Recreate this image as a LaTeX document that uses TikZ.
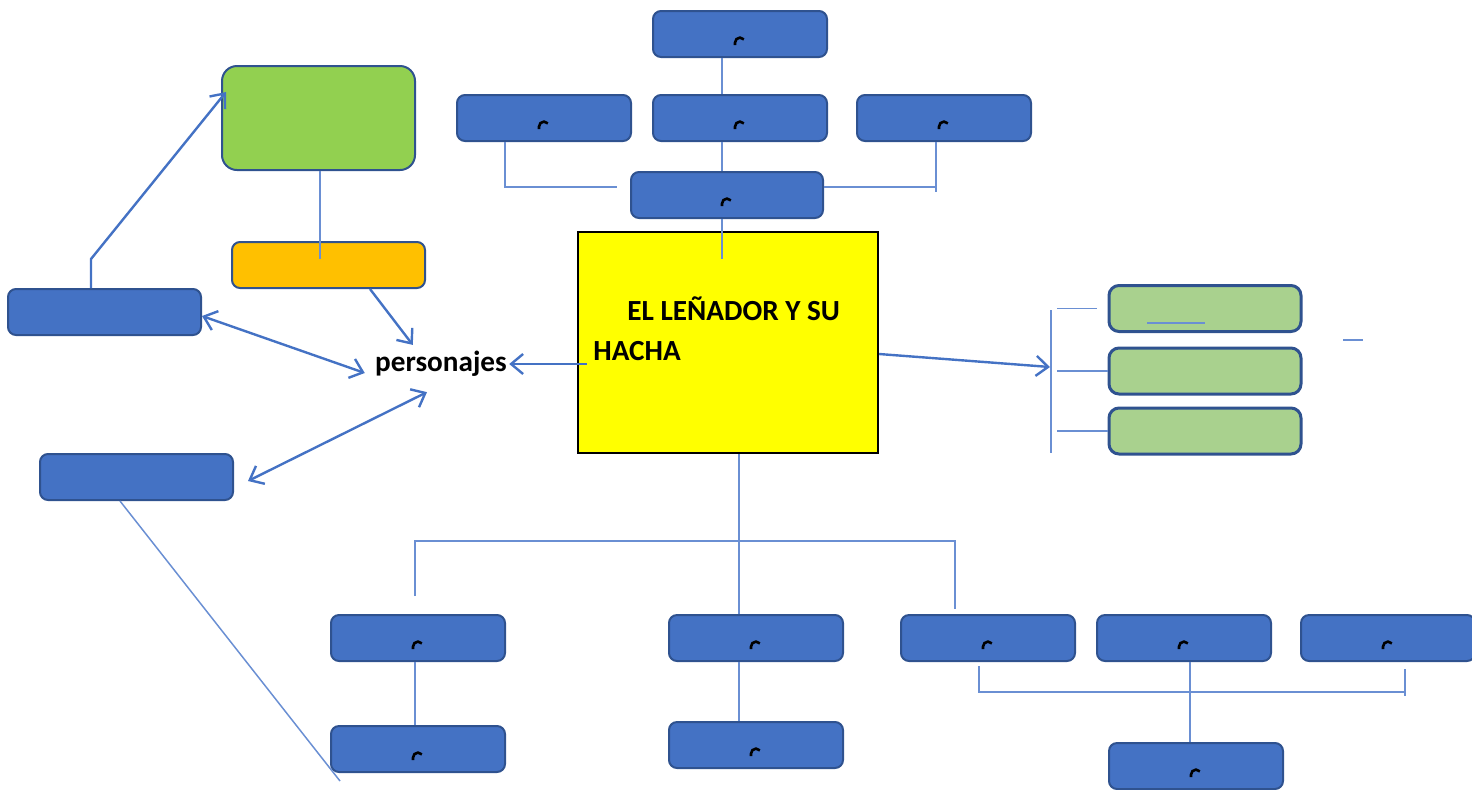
\documentclass[tikz,border=0pt]{standalone}
\usepackage{fontspec}
\setmainfont{Carlito}
\usepackage{tikz}
\usetikzlibrary{arrows.meta}

\definecolor{azul}{HTML}{4472C4}
\definecolor{borde}{HTML}{2F528F}
\definecolor{linea}{HTML}{6A8FD3}
\definecolor{verdeF}{HTML}{92D050}
\definecolor{verdeC}{HTML}{A9D18E}
\definecolor{naranja}{HTML}{FFC000}
\definecolor{amarillo}{HTML}{FFFF00}

\begin{document}
\begin{tikzpicture}
		[x=0.5pt,y=-0.5pt,
		caja/.style= {rounded corners=4pt,draw=borde,fill=azul,line width=1pt,minimum width=87pt,minimum height=23pt,inner sep=0pt},
		ancha/.style= {caja,minimum width=96.5pt},
		hoja/.style= {caja,fill=verdeC,line width=1.5pt,rounded corners=5pt,minimum width=96pt},
		link/.style= {draw=linea,line width=0.75pt},
		flecha/.style= {draw=azul,line width=1.2pt,-{Straight Barb[length=6pt,width=10pt]}},
		doble/.style= {flecha,{Straight Barb[length=6pt,width=10pt]}-{Straight Barb[length=6pt,width=10pt]}},
		glifo/.style= {black,line width=1.3pt}]

		\useasboundingbox (0,0) rectangle (1472,789);

		% centro
		\node[draw=black,fill=amarillo,line width=1.1pt,minimum width=150pt,minimum height=110.5pt,inner sep=0pt] (main) at (728,342.5) {};
		\node[anchor=base west,inner sep=0pt,align=left,font=\fontsize{14.6}{20}\selectfont\bfseries] (title) at (593,360) {\hspace*{17pt}EL LEÑADOR Y SU\\HACHA};

		% arriba
		\node[caja] (t0) at (740,34) {};
		\node[caja] (t1) at (544,118) {};
		\node[caja] (t2) at (740,118) {};
		\node[caja] (t3) at (944,118) {};
		\node[caja,minimum width=96pt] (t4) at (727,195) {};

		% izquierda
		\node[caja,fill=verdeF,rounded corners=7.5pt,minimum width=96.5pt,minimum height=52pt] (green) at (318.5,118) {};
		\node[ancha,fill=naranja] (orange) at (328.5,265) {};
		\node[ancha] (l1) at (104.5,312) {};
		\node[ancha] (l2) at (136.5,477) {};
		\node[inner sep=1pt,font=\fontsize{14.6}{17}\selectfont\bfseries] (pers) at (441,364) {personajes};

		% derecha
		\node[hoja] (g1) at (1205,308.5) {};
		\node[hoja] (g2) at (1205,371) {};
		\node[hoja] (g3) at (1205,431) {};
		\coordinate (rtop) at (1051,310);
		\coordinate (rbot) at (1051,453);
		\coordinate (rtip) at (1050,367);
		\coordinate (dash) at (1343,340);

		% abajo
		\node[caja] (b1) at (418,638) {};
		\node[caja] (b2) at (756,638) {};
		\node[caja] (b3) at (988,638) {};
		\node[caja] (b4) at (1184,638) {};
		\node[caja] (b5) at (1388,638) {};
		\node[caja] (b6) at (418,749) {};
		\node[caja] (b7) at (756,745) {};
		\node[caja] (b8) at (1196,766) {};
		\coordinate (hbar) at (739,541);
		\coordinate (lend) at (340,781);

		% conectores de arriba
		\draw[link] ([xshift=-9pt]t0.south) -- ([xshift=-9pt]t2.north);
		\draw[link] ([xshift=-9pt]t2.south) -- ([xshift=-9pt]t2.south |- t4.north);
		\draw[link] ([xshift=-19.5pt]t1.south) |- ([shift={(-6.5pt,4pt)}]t4.west);
		\draw[link] ([xshift=-4pt]t3.south) -- ++(0,-25pt);
		\draw[link] ([yshift=4pt]t4.east) -- ++(56.5pt,0);
		\draw[link] ([xshift=-2.5pt]t4.south) -- ++(0,-20pt);

		% conectores de la izquierda
		\draw[flecha] ([xshift=5pt]main.west |- pers.east) -- (pers.east);
		\draw[link] ([xshift=0.75pt]green.south) -- ++(0,-44pt);
		\draw[flecha] ([xshift=20.75pt]orange.south) -- ([shift={(20pt,2pt)}]pers.north west);
		\draw[flecha] ([xshift=-6.75pt]l1.north) -- ++(0,14.5pt) -- ([shift={(2.5pt,13pt)}]green.west);
		\draw[doble] ([yshift=-2pt]l1.east) -- ([shift={(-4pt,-4.5pt)}]pers.west);
		\draw[doble] ([shift={(7pt,-2pt)}]l2.east) -- ([shift={(-7pt,-6.5pt)}]pers.south);

		% conectores de la derecha
		\draw[flecha] ([yshift=-5.75pt]main.east) -- (rtip);
		\draw[link] (rtop) -- (rbot);
		\draw[link] ([xshift=3pt]rtop |- g1.west) -- ([xshift=-5.5pt]g1.west);
		\draw[link] ([xshift=3pt]rtop |- g2.west) -- (g2.west);
		\draw[link] ([xshift=3pt]rtop |- g3.west) -- (g3.west);
		\draw[link] ([shift={(-29pt,-7.25pt)}]g1.center) -- ++(29pt,0);
		\draw[link] (dash) -- ++(10pt,0);

		% conectores de abajo
		\draw[link] ([xshift=5.5pt]main.south) -- ([xshift=5.5pt]main.south |- b2.north);
		\draw[link] ([shift={(-1.5pt,9pt)}]b1.north) |- (hbar) -| ([shift={(-16.5pt,2.5pt)}]b3.north);
		\draw[link] ([xshift=-1.5pt]b1.south) -- ([xshift=-1.5pt]b1.south |- b6.north);
		\draw[link] ([xshift=-8.5pt]b2.south) -- ([xshift=-8.5pt]b2.south |- b7.north);
		\draw[link] ([xshift=3pt]b4.south) -- ([xshift=3pt]b4.south |- b8.north);
		\draw[link] ([shift={(-4.5pt,-2pt)}]b3.south) |- ([shift={(8.5pt,-15pt)}]b5.south);
		\draw[link] ([shift={(8.5pt,-3.5pt)}]b5.south) -- ++(0,-13.5pt);
		\draw[link] ([xshift=-8.25pt]l2.south) -- (lend);

		% marcas en las cajas
		\foreach \b in {t0,t1,t2,t3,t4,b1,b2,b3,b4,b5,b6,b7,b8}
			\draw[glifo] ([shift={(-2.5pt,-5.5pt)}]\b.center) -- ++(0,1.2pt) arc[start angle=180,end angle=40,radius=2.5pt];

	\end{tikzpicture}
\end{document}
